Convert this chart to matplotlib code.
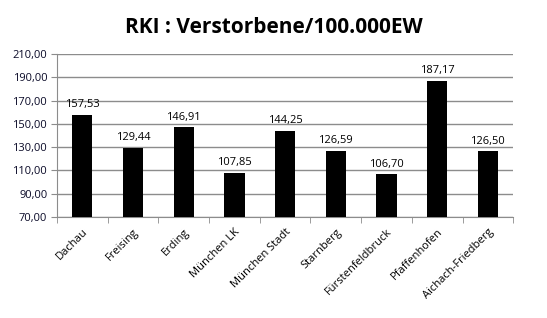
import matplotlib.pyplot as plt
import numpy as np

regions = ["Dachau", "Freising", "Erding", "München LK", "München Stadt",
           "Starnberg", "Fürstenfeldbruck", "Pfaffenhofen", "Aichach-Friedberg"]
deaths = [157.53, 129.44, 146.91, 107.85, 144.25, 126.59, 106.70, 187.17, 126.50]
y_ticks = [70, 90, 110, 130, 150, 170, 190, 210]


def de(v):
    return f"{v:.2f}".replace(".", ",")


def main():
    plt.rcParams['font.family'] = ['Open Sans', 'DejaVu Sans']
    fig = plt.figure(figsize=(5.47, 3.18), dpi=100)
    ax = fig.add_axes([0.1042, 0.3176, 0.834, 0.5124])

    x = np.arange(len(regions))
    ax.bar(x, deaths, width=0.4, color="black", zorder=3)
    for xi, v in zip(x, deaths):
        ax.text(xi, v + 4, de(v), ha="center", va="bottom", fontsize=8)

    ax.set_ylim(70, 210)
    ax.set_xlim(-0.5, len(regions) - 0.5)
    ax.set_yticks(y_ticks)
    ax.set_yticklabels([de(t) for t in y_ticks], fontsize=8, color="#0a0a28")
    ax.yaxis.grid(True, color="#8c8c8c", linewidth=1, zorder=0)

    ax.set_xticks(x)
    ax.set_xticklabels(regions, rotation=45, ha="right", rotation_mode="anchor",
                       fontsize=8)
    ax.tick_params(axis="x", length=0, pad=7)
    ax.set_xticks(np.arange(-0.5, len(regions)), minor=True)
    ax.tick_params(axis="x", which="minor", length=4, color="#8c8c8c")
    ax.tick_params(axis="y", length=4, color="#8c8c8c", pad=3)

    for side in ["top", "right"]:
        ax.spines[side].set_visible(False)
    for side in ["left", "bottom"]:
        ax.spines[side].set_color("#8c8c8c")

    fig.suptitle("RKI : Verstorbene/100.000EW", fontsize=15, fontweight="bold",
                 y=0.945)
    fig.savefig("out.png", dpi=100)


if __name__ == "__main__":
    main()
